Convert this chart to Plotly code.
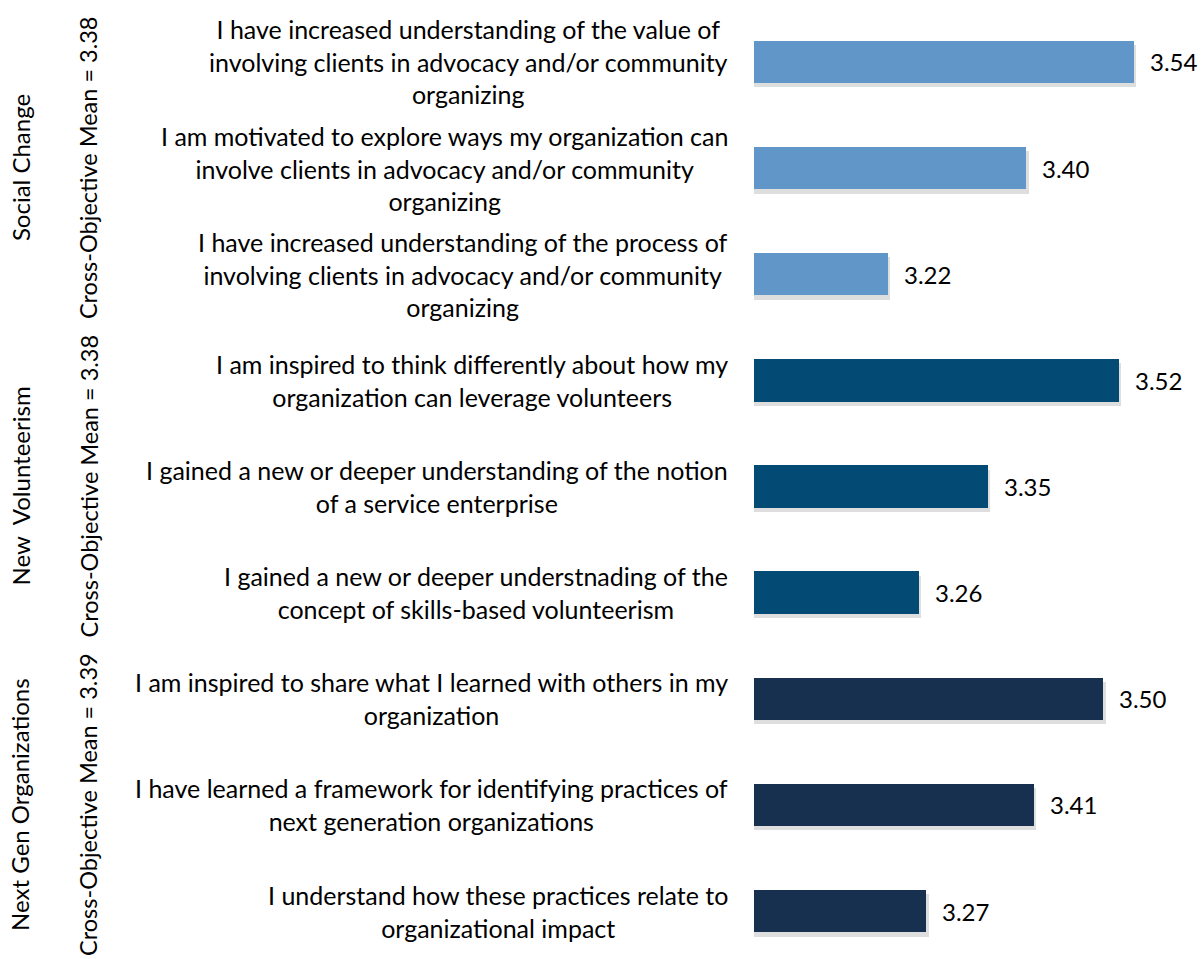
import plotly.graph_objects as go

statements = [
    "I have increased understanding of the value of<br>involving clients in advocacy and/or community<br>organizing",
    "I am motivated to explore ways my organization can<br>involve clients in advocacy and/or community<br>organizing",
    "I have increased understanding of the process of<br>involving clients in advocacy and/or community<br>organizing",
    "I am inspired to think differently about how my<br>organization can leverage volunteers",
    "I gained a new or deeper understanding of the notion<br>of a service enterprise",
    "I gained a new or deeper understnading of the<br>concept of skills-based volunteerism",
    "I am inspired to share what I learned with others in my<br>organization",
    "I have learned a framework for identifying practices of<br>next generation organizations",
    "I understand how these practices relate to<br>organizational impact",
]
values = [3.54, 3.40, 3.22, 3.52, 3.35, 3.26, 3.50, 3.41, 3.27]
groups = ["Social Change", "New  Volunteerism", "Next Gen Organizations"]
group_means = [3.38, 3.38, 3.39]
group_colors = ["#6096C8", "#034A74", "#17304F"]
items_per_group = 3

FONT = "Lato"
AXIS_MIN = 3.046
positions = list(range(len(values)))
colors = [group_colors[i // items_per_group] for i in positions]

fig = go.Figure()
# soft shadow under each bar
fig.add_trace(go.Bar(
    x=[v + 0.003 - AXIS_MIN for v in values], y=[p + 0.04 for p in positions],
    orientation="h", base=AXIS_MIN, width=0.4,
    marker=dict(color="rgba(0,0,0,0.13)", line=dict(width=0)),
    hoverinfo="skip", showlegend=False,
))
fig.add_trace(go.Bar(
    x=[v - AXIS_MIN for v in values], y=positions, orientation="h", base=AXIS_MIN,
    width=0.4, marker=dict(color=colors, line=dict(width=0)),
    showlegend=False,
))

ann = []
for p, v, s in zip(positions, values, statements):
    ann.append(dict(x=v, y=p, xref="x", yref="y", text=f"{v:.2f}", showarrow=False,
                    xanchor="left", yanchor="middle", xshift=14,
                    font=dict(family=FONT, size=24, color="#000")))
    ann.append(dict(x=0, y=p, xref="paper", yref="y", text=s, showarrow=False,
                    xanchor="right", yanchor="middle", align="center", xshift=-24,
                    font=dict(family=FONT, size=25, color="#000")))
for g, (name, mean) in enumerate(zip(groups, group_means)):
    center = g * items_per_group + (items_per_group - 1) / 2
    ann.append(dict(x=0, y=center, xref="paper", yref="y", text=name, showarrow=False,
                    textangle=-90, xanchor="center", yanchor="middle", xshift=-734,
                    font=dict(family=FONT, size=24, color="#000")))
    ann.append(dict(x=0, y=center, xref="paper", yref="y",
                    text=f"Cross-Objective Mean = {mean:.2f}", showarrow=False,
                    textangle=-90, xanchor="center", yanchor="middle", xshift=-666,
                    font=dict(family=FONT, size=23.5, color="#000")))

fig.update_layout(
    width=1204, height=959,
    margin=dict(l=754, r=10, t=0, b=0),
    paper_bgcolor="white", plot_bgcolor="white",
    barmode="overlay", bargap=0,
    annotations=ann,
    xaxis=dict(range=[AXIS_MIN, 3.618], visible=False),
    yaxis=dict(range=[8.452, -0.584], visible=False),
)
fig.write_html("out.html")
